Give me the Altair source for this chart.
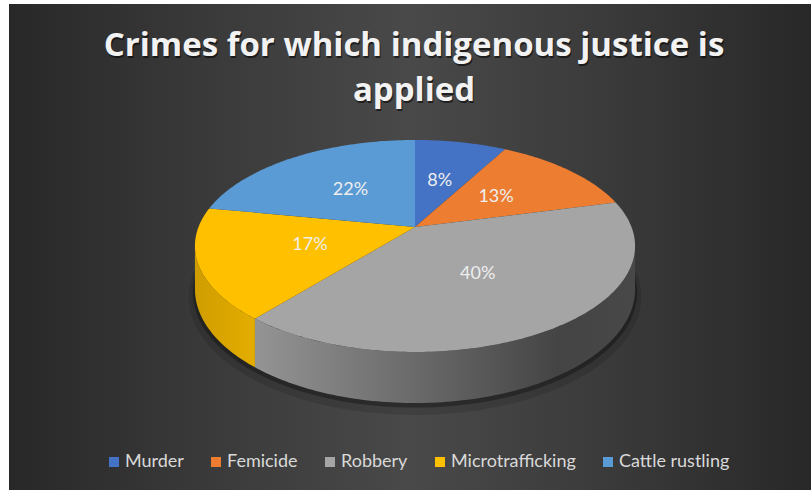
import altair as alt
import numpy as np
import pandas as pd

# ---- data ----
crimes = ["Murder", "Femicide", "Robbery", "Microtrafficking", "Cattle rustling"]
shares = [8, 13, 40, 17, 22]
labels = ["8%", "13%", "40%", "17%", "22%"]
colors = ["#4472c4", "#ed7d31", "#a5a5a5", "#ffc000", "#5b9bd5"]
title_lines = ["Crimes for which indigenous justice is", "applied"]

# ---- layout / style ----
W, H = 802, 486
PAD_L, PAD_T = 9, 4
CX, CY = 415.0 - PAD_L, 227.0 - PAD_T   # pie centre (plot coords)
R = 216.5
TILT = 0.474
PERSP = 0.179
DEPTH = 41.9
FONT = "Lato"
TITLE_FONT = "Open Sans"


def project(phi, r=1.0, drop=0.0):
    X = R * r * np.sin(phi)
    Z = R * r * np.cos(phi)
    f = 1.0 / (1.0 + PERSP * Z / R)
    return CX + X * f, CY - TILT * Z * f + drop * f


def arc_pts(a0, a1, r=1.0, drop=0.0):
    n = max(6, int(np.degrees(abs(a1 - a0))))
    ph = np.linspace(a0, a1, n)
    xs, ys = project(ph, r, drop)
    return [[float(x), float(y)] for x, y in zip(xs, ys)]


total = float(sum(shares))
cum = np.concatenate([[0.0], np.cumsum(shares)]) / total * 2 * np.pi

# top faces
top_feats = []
for i, c in enumerate(crimes):
    pts = [[CX, CY]] + arc_pts(cum[i], cum[i + 1]) + [[CX, CY]]
    top_feats.append({"type": "Feature",
                      "geometry": {"type": "Polygon", "coordinates": [pts]},
                      "properties": {"crime": c}})

# visible outer walls
phiL = np.pi / 2 + np.arcsin(PERSP)
phiR = 1.5 * np.pi - np.arcsin(PERSP)
wall_feats = {}
for i, c in enumerate(crimes):
    s, e = max(cum[i], phiL), min(cum[i + 1], phiR)
    if e > s:
        top = arc_pts(s, e)
        bot = arc_pts(s, e, drop=DEPTH)[::-1]
        pts = top + bot + [top[0]]
        wall_feats[c] = [{"type": "Feature",
                          "geometry": {"type": "Polygon", "coordinates": [pts]},
                          "properties": {"crime": c}}]


def shadow_feat(extra_drop, grow):
    ph = np.linspace(0, 2 * np.pi, 181)
    X = (R + grow) * np.sin(ph)
    Z = (R + grow) * np.cos(ph)
    f = 1.0 / (1.0 + PERSP * Z / R)
    xs_ = CX + X * f
    ys_ = CY - TILT * Z * f + (DEPTH + extra_drop) * f
    pts = [[float(x), float(y)] for x, y in zip(xs_, ys_)]
    return [{"type": "Feature",
             "geometry": {"type": "Polygon", "coordinates": [pts]},
             "properties": {}}]


PROJ = dict(type="identity", scale=1, translate=[0, 0])

xs = alt.Scale(domain=[0, W], range=[0, W], nice=False, zero=False)
ys = alt.Scale(domain=[0, H], range=[0, H], nice=False, zero=False)

# background
bg = alt.Chart(pd.DataFrame({"k": [0]})).mark_rect(
    fill=alt.LinearGradient(
        gradient="linear", x1=0, x2=1, y1=0, y2=0,
        stops=[alt.GradientStop(color="#282828", offset=0),
               alt.GradientStop(color="#3a3a3a", offset=0.25),
               alt.GradientStop(color="#494949", offset=0.5),
               alt.GradientStop(color="#3a3a3a", offset=0.75),
               alt.GradientStop(color="#282828", offset=1)]),
).encode(x=alt.value(0), x2=alt.value(W), y=alt.value(0), y2=alt.value(H))

shadow1 = alt.Chart(alt.InlineData(values=shadow_feat(6, 6))).mark_geoshape(
    fill="#000000", opacity=0.12, strokeOpacity=0).project(**PROJ)
shadow2 = alt.Chart(alt.InlineData(values=shadow_feat(2.5, 2))).mark_geoshape(
    fill="#000000", opacity=0.3, strokeOpacity=0).project(**PROJ)

wall_grads = {
    "Robbery": [("#949494", 0), ("#6c6c6c", 0.4), ("#444444", 0.8), ("#484848", 1)],
    "Microtrafficking": [("#cf9d00", 0), ("#e4ad00", 1)],
}
walls = []
for c, feats in wall_feats.items():
    col0 = colors[crimes.index(c)]
    stops = wall_grads.get(c, [(col0, 0), (col0, 1)])
    walls.append(alt.Chart(alt.InlineData(values=feats)).mark_geoshape(
        fill=alt.LinearGradient(gradient="linear", x1=0, x2=1, y1=0, y2=0,
                                stops=[alt.GradientStop(color=col, offset=o) for col, o in stops]),
        strokeOpacity=0).project(**PROJ))

top = alt.Chart(alt.InlineData(values=top_feats)).mark_geoshape(
    strokeOpacity=0).encode(
    color=alt.Color("properties.crime:N",
                    scale=alt.Scale(domain=crimes, range=colors),
                    legend=alt.Legend(orient="none", legendX=96, legendY=449,
                                      direction="horizontal", columns=5,
                                      symbolType="square", symbolSize=100,
                                      symbolStrokeWidth=0, labelFont=FONT,
                                      labelFontSize=18, labelColor="#d9d9d9",
                                      labelOffset=2, columnPadding=23,
                                      padding=0, title=None)),
).project(**PROJ)

# data labels
mid = (cum[:-1] + cum[1:]) / 2
lx, ly = project(mid, r=0.5)
lab_df = pd.DataFrame({"x": lx, "y": ly, "t": labels})
lab = alt.Chart(lab_df).mark_text(font=FONT, fontSize=18, color="#eeeeee",
                                  baseline="middle", align="center").encode(
    x=alt.X("x:Q", scale=xs, axis=None), y=alt.Y("y:Q", scale=ys, axis=None),
    text="t:N")

# title (one multi-line text, with a soft drop shadow)
tdf = pd.DataFrame({"t": ["\n".join(title_lines)]})
tlayers = []
for dx, dy, col, op in [(1, 1.5, "#000000", 0.55), (0, 0, "#f2f2f2", 1.0)]:
    tlayers.append(
        alt.Chart(tdf).mark_text(
            font=TITLE_FONT, fontSize=33, fontWeight="bold", color=col, opacity=op,
            align="center", baseline="alphabetic", lineBreak="\n", lineHeight=45).encode(
            x=alt.value(405 + dx), y=alt.value(52 + dy), text="t:N"))

chart = alt.layer(bg, shadow1, shadow2, *walls, top, lab, *tlayers).properties(
    width=W, height=H,
    padding={"left": PAD_L, "top": PAD_T, "right": 0, "bottom": 0},
    autosize=alt.AutoSizeParams(type="none"),
    background="#ffffff",
).configure_view(stroke=None)

chart.save("out.html", embed_options={"renderer": "svg", "actions": False})
